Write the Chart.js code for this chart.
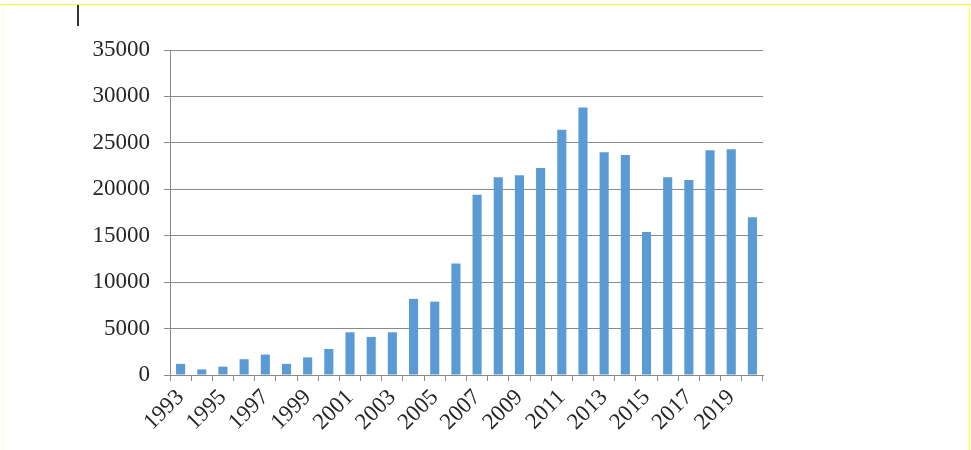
<!DOCTYPE html>
<html>
<head>
<meta charset="utf-8">
<script src="https://cdn.jsdelivr.net/npm/chart.js@4"></script>
<style>
  html, body { margin: 0; padding: 0; background: #fff; }
  #wrap { position: relative; width: 971px; height: 450px; }
  #c { position: absolute; left: 0; top: 0; }
  .ln { position: absolute; background: #ffff33; }
</style>
</head>
<body>
<div id="wrap">
  <canvas id="c" width="971" height="450"></canvas>
  <div class="ln" style="left:0;top:4px;width:971px;height:1px;"></div>
  <div class="ln" style="left:969px;top:4px;width:1px;height:446px;"></div>
  <div class="ln" style="left:3px;top:4px;width:1px;height:446px;background:#fdfdc8;"></div>
  <div style="position:absolute;left:77px;top:5px;width:2px;height:21px;background:#333;"></div>
</div>
<script>
const years = ["1993","1994","1995","1996","1997","1998","1999","2000","2001","2002",
  "2003","2004","2005","2006","2007","2008","2009","2010","2011","2012",
  "2013","2014","2015","2016","2017","2018","2019","2020"];
const values = [1200, 600, 900, 1700, 2200, 1200, 1900, 2800, 4600, 4100,
  4600, 8200, 7900, 12000, 19400, 21300, 21500, 22300, 26400, 28800,
  24000, 23700, 15400, 21300, 21000, 24200, 24300, 17000];
const yTicks = [0, 5000, 10000, 15000, 20000, 25000, 30000, 35000];

const yFont = { family: "'Liberation Serif', 'Times New Roman', serif", size: 23 };
const xFont = { family: "'Liberation Serif', 'Times New Roman', serif", size: 23 };

new Chart(document.getElementById('c'), {
  type: 'bar',
  data: {
    labels: years,
    datasets: [{
      data: values,
      backgroundColor: '#5b9bd5',
      borderWidth: 0,
      categoryPercentage: 1,
      barPercentage: 0.43
    }]
  },
  options: {
    responsive: false,
    animation: false,
    layout: { padding: { left: 0, top: 50, right: 208, bottom: 0 } },
    plugins: { legend: { display: false }, tooltip: { enabled: false } },
    scales: {
      x: {
        grid: {
          offset: true,
          drawOnChartArea: false,
          drawTicks: true,
          tickLength: 6,
          color: '#8a8a8a'
        },
        border: { color: '#8a8a8a', width: 1 },
        ticks: {
          font: xFont,
          color: '#262626',
          maxRotation: 45,
          minRotation: 45,
          autoSkip: false,
          padding: 3,
          callback: function(v, i) { return i % 2 === 0 ? years[i] : ''; }
        },
        afterFit: function(s) { s.height = 75; }
      },
      y: {
        min: 0,
        max: 35000,
        afterBuildTicks: function(s) { s.ticks = yTicks.map(v => ({ value: v })); },
        grid: { color: '#8a8a8a', tickLength: 6, lineWidth: 1 },
        border: { color: '#8a8a8a', width: 1 },
        ticks: {
          font: yFont,
          color: '#262626',
          padding: 14,
          callback: function(v) { return String(v); }
        },
        afterFit: function(s) { s.width = 170; }
      }
    }
  }
});
</script>
</body>
</html>
